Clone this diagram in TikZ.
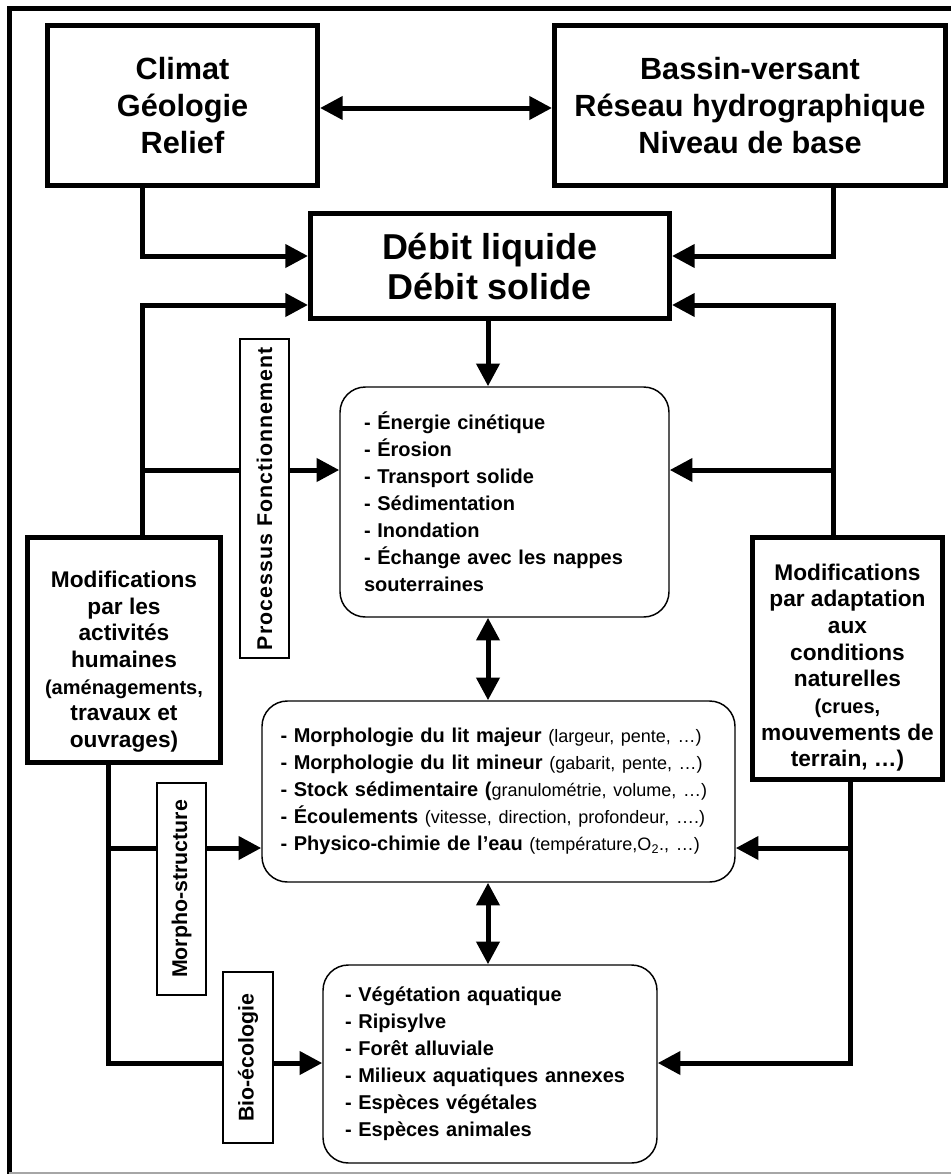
\documentclass[tikz,border=0pt]{standalone}
\usepackage{fontspec}
\setmainfont{Liberation Sans}
\usetikzlibrary{arrows.meta}
\newcommand\smtxt[1]{{\mdseries\fontsize{13.5}{20.25}\selectfont #1}}
\begin{document}
\begin{tikzpicture}[x=0.75pt,y=-0.75pt,
  thickbox/.style={draw, line width=3.75pt, inner sep=0pt, align=center},
  roundbox/.style={draw, line width=1.1pt, rounded corners=19pt, inner sep=0pt, align=left,
    font=\bfseries\fontsize{15}{20.25}\selectfont},
  labbox/.style={draw, line width=1pt, fill=white, rotate=90, inner sep=0pt,
    font=\bfseries\fontsize{16}{19}\selectfont},
  conn/.style={line width=3.75pt},
  arr/.style={conn, -{Triangle[length=17pt,width=17pt]}},
  darr/.style={conn, {Triangle[length=17pt,width=17pt]}-{Triangle[length=17pt,width=17pt]}}
]
\useasboundingbox (0,0) rectangle (951,1174);
\fill[white] (0,0) rectangle (951,1174);
% frame
\draw[line width=3.75pt] (9,1174) -- (9,8.5) -- (951,8.5);
\draw[line width=1.1pt, black!35] (9,1173) -- (951,1173);

% main boxes
\node[thickbox, minimum width=270*0.75pt, minimum height=160*0.75pt,
  font=\bfseries\fontsize{23}{27.5}\selectfont] (clim) at (182.5,105.5)
  {Climat\\Géologie\\Relief};
\node[thickbox, minimum width=391*0.75pt, minimum height=160*0.75pt,
  font=\bfseries\fontsize{23}{27.5}\selectfont] (bass) at (750,105.5)
  {Bassin-versant\\Réseau hydrographique\\Niveau de base};
\node[thickbox, minimum width=359*0.75pt, minimum height=105*0.75pt,
  font=\bfseries\fontsize{27}{30}\selectfont] (debit) at (490,266)
  {Débit liquide\\Débit solide};
\node[thickbox, minimum width=193*0.75pt, minimum height=225*0.75pt,
  font=\bfseries\fontsize{17}{20}\selectfont] (modL) at (124,650)
  {\rule{0pt}{30pt}Modifications\\par les\\activités\\humaines\\\fontsize{15}{18.5}\selectfont(aménagements,\\travaux et\\ouvrages)};
\node[thickbox, minimum width=190*0.75pt, minimum height=242*0.75pt,
  font=\bfseries\fontsize{17}{20}\selectfont] (modR) at (847.5,658.5)
  {\rule{0pt}{26pt}Modifications\\par adaptation\\aux\\conditions\\naturelles\\\fontsize{15}{18.5}\selectfont(crues,\\mouvements de\\terrain, …)};

\node[roundbox, minimum width=329*0.75pt, minimum height=230*0.75pt, text width=281*0.75pt] (b1) at (504.5,502)
  {- Énergie cinétique\\- Érosion\\- Transport solide\\- Sédimentation\\- Inondation\\- Échange avec les nappes\\souterraines};
\node[roundbox, minimum width=473*0.75pt, minimum height=181*0.75pt, text width=436*0.75pt] (b2) at (498.5,791.5)
  {- Morphologie du lit majeur \smtxt{(largeur, pente, …)}\\
   - Morphologie du lit mineur \smtxt{(gabarit, pente, …)}\\
   - Stock sédimentaire (\smtxt{granulométrie, volume, …)}\\
   - Écoulements \smtxt{(vitesse, direction, profondeur, ….)}\\
   - Physico-chimie de l’eau \smtxt{(température,O\textsubscript{2}., …)}};
\node[roundbox, minimum width=334*0.75pt, minimum height=198*0.75pt, text width=290*0.75pt] (b3) at (490,1064)
  {- Végétation aquatique\\- Ripisylve\\- Forêt alluviale\\- Milieux aquatiques annexes\\- Espèces végétales\\- Espèces animales};

% junction coordinates
\coordinate (mx) at (488,0);
\coordinate (jL1) at (142,256);
\coordinate (jL2) at (142,305);
\coordinate (jL3) at (142,470);
\coordinate (jR1) at (833,256);
\coordinate (jR2) at (833,305);
\coordinate (jR3) at (833,470);
\coordinate (jL4) at (108,848);
\coordinate (jL5) at (108,1063);
\coordinate (jR4) at (850,848);
\coordinate (jR5) at (850,1063);

% connectors
\draw[darr] (clim.east |- 0,108) -- (bass.west |- 0,108);
\draw[arr] (clim.south -| jL1) -- (jL1) -- (debit.west |- jL1);
\draw[arr] (bass.south -| jR1) -- (jR1) -- (debit.east |- jR1);
\draw[arr] (modL.north -| jL2) -- (jL2) -- (debit.west |- jL2);
\draw[arr] (modR.north -| jR2) -- (jR2) -- (debit.east |- jR2);
\draw[arr] (jL3) -- (b1.west |- jL3);
\draw[arr] (jR3) -- (b1.east |- jR3);
\draw[arr] (debit.south -| mx) -- (b1.north -| mx);
\draw[darr] (b1.south -| mx) -- (b2.north -| mx);
\draw[darr] (b2.south -| mx) -- (b3.north -| mx);
\draw[arr] (modL.south -| jL4) -- (jL5) -- (b3.west |- jL5);
\draw[arr] (jL4) -- (b2.west |- jL4);
\draw[arr] (modR.south -| jR4) -- (jR5) -- (b3.east |- jR5);
\draw[arr] (jR4) -- (b2.east |- jR4);

% labels
\node[labbox, minimum width=319*0.75pt, minimum height=49*0.75pt] (proc) at (264.5,498.5) {\addfontfeature{LetterSpace=5}Processus Fonctionnement};
\node[labbox, minimum width=212*0.75pt, minimum height=49*0.75pt] (morph) at (181.5,889) {Morpho-structure};
\node[labbox, minimum width=171*0.75pt, minimum height=50*0.75pt] (bio) at (248,1057.5) {Bio-écologie};
\end{tikzpicture}
\end{document}
